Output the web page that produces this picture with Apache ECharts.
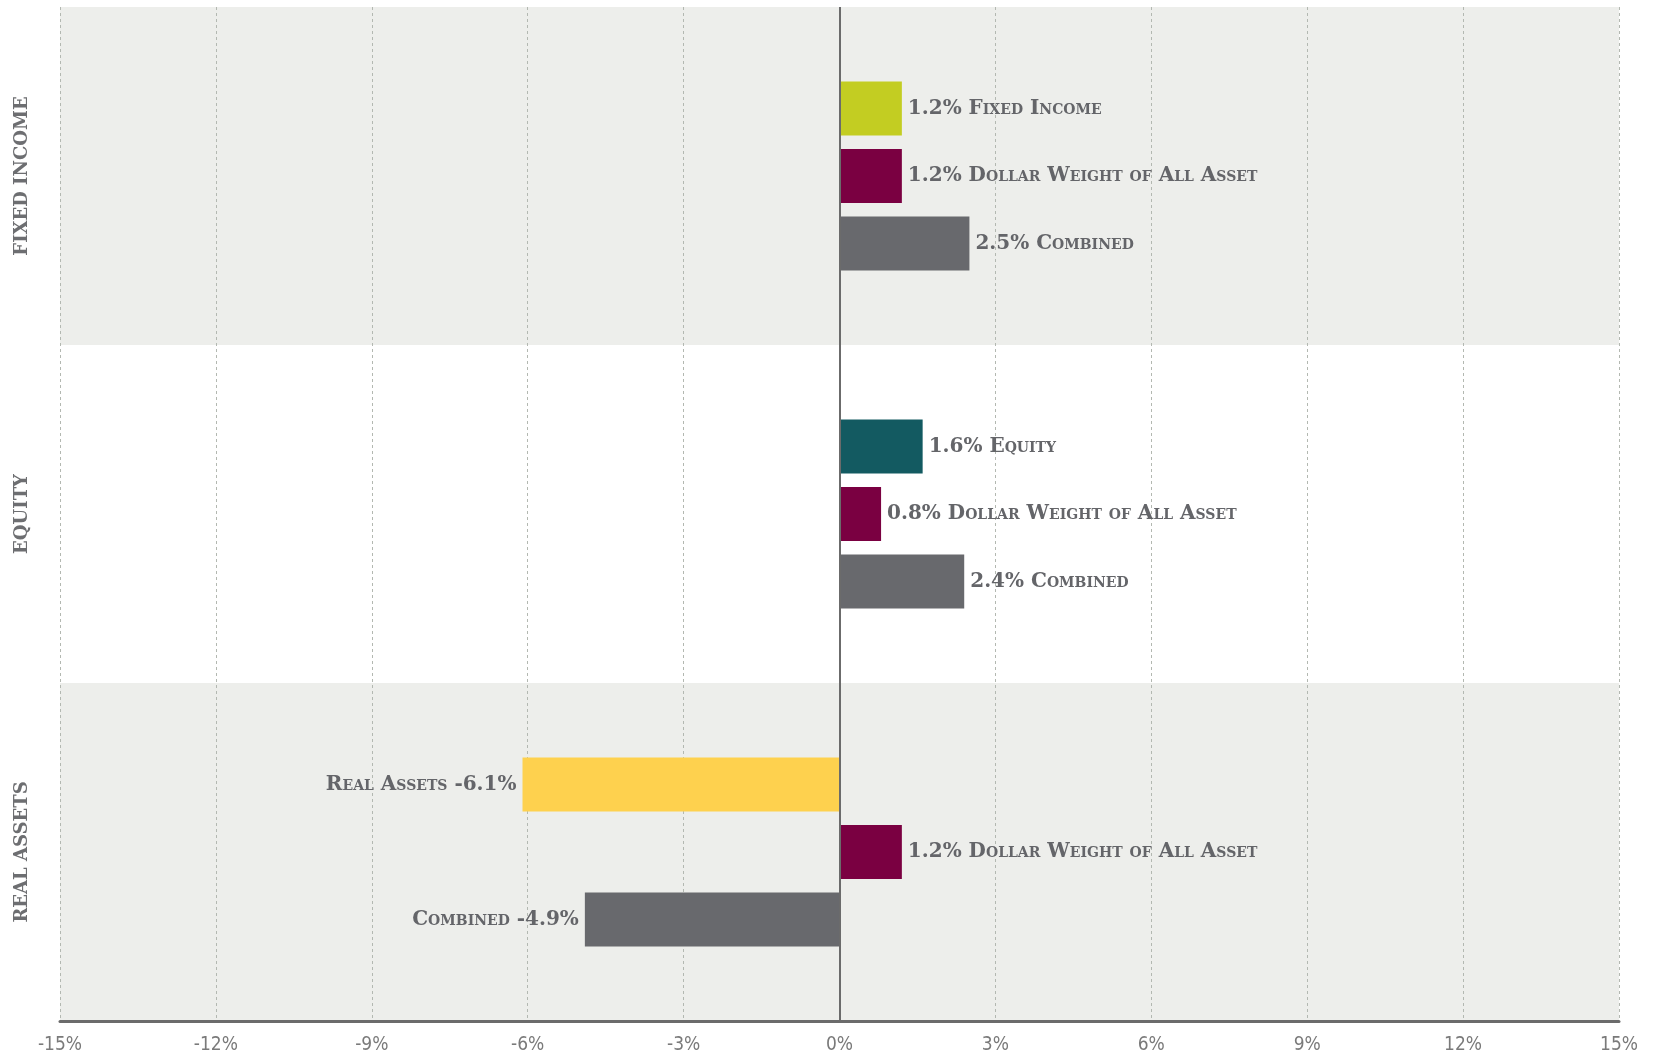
<!DOCTYPE html>
<html><head><meta charset="utf-8">
<script src="https://cdn.jsdelivr.net/npm/echarts@6/dist/echarts.min.js"></script>
<style>html,body{margin:0;padding:0;background:#fff}#c{width:1656px;height:1057px}</style>
</head><body><div id="c"></div>
<script>
// ---- data ----
const categories = ['FIXED INCOME', 'EQUITY', 'REAL ASSETS'];
const classNames = ['Fixed Income', 'Equity', 'Real Assets'];
const classValues = [1.2, 1.6, -6.1];
const dollarWeightName = 'Dollar Weight of All Asset';
const dollarWeightValues = [1.2, 0.8, 1.2];
const combinedName = 'Combined';
const combinedValues = [2.5, 2.4, -4.9];
const xMin = -15, xMax = 15, xStep = 3;

// ---- styles ----
const classColors = ['#C3CD22', '#135A61', '#FED14E'];
const dollarColor = '#7A0041';
const combinedColor = '#68696D';
const textColor = '#646569';

const labelFont = {
  color: textColor,
  fontStyle: 'small-caps',
  fontWeight: 'bold',
  fontFamily: "'DejaVu Serif', serif",
  fontSize: 20,
  distance: 6
};

function makeData(values, colors) {
  return values.map((v, i) => {
    const d = { value: v, label: { position: v < 0 ? 'left' : 'right' } };
    if (colors) d.itemStyle = { color: colors[i] };
    return d;
  });
}
function fmt(name) {
  return p => {
    const n = typeof name === 'function' ? name(p.dataIndex) : name;
    return p.value < 0 ? n + ' ' + p.value + '%' : p.value + '% ' + n;
  };
}

const chart = echarts.init(document.getElementById('c'));
chart.setOption({
  animation: false,
  backgroundColor: '#ffffff',
  grid: { left: 60, right: 37, top: 7, bottom: 36, containLabel: false },
  xAxis: {
    type: 'value', min: xMin, max: xMax, interval: xStep,
    axisLine: { show: true, lineStyle: { color: '#6b6b6b', width: 3 } },
    axisTick: { show: false },
    axisLabel: {
      formatter: v => v + '%', color: '#7a7a7a', fontSize: 19,
      fontFamily: "'Liberation Sans Narrow', 'DejaVu Sans Condensed', sans-serif",
      margin: 15
    },
    splitLine: { show: true, lineStyle: { color: '#b3b8b1', type: [3, 3], width: 1 } }
  },
  yAxis: {
    type: 'category', data: categories, inverse: true,
    axisLine: { show: false }, axisTick: { show: false },
    axisLabel: {
      rotate: 90, color: '#6d6e71', fontWeight: 'bold', fontSize: 18,
      fontFamily: "'DejaVu Serif', serif", margin: 29
    },
    splitArea: { show: true, areaStyle: { color: ['#EDEEEB', '#FFFFFF'] } }
  },
  series: [
    {
      type: 'bar', name: 'Asset Class', barWidth: 54, barGap: '25%',
      data: makeData(classValues, classColors),
      label: Object.assign({ show: true, formatter: fmt(i => classNames[i]) }, labelFont),
      markLine: {
        silent: true, symbol: 'none', label: { show: false },
        lineStyle: { color: '#6b6b6b', width: 2, type: 'solid' },
        data: [{ xAxis: 0 }]
      },
      z: 3
    },
    {
      type: 'bar', name: dollarWeightName, barWidth: 54, barGap: '25%',
      itemStyle: { color: dollarColor },
      data: makeData(dollarWeightValues),
      label: Object.assign({ show: true, formatter: fmt(dollarWeightName) }, labelFont),
      z: 3
    },
    {
      type: 'bar', name: combinedName, barWidth: 54, barGap: '25%',
      itemStyle: { color: combinedColor },
      data: makeData(combinedValues),
      label: Object.assign({ show: true, formatter: fmt(combinedName) }, labelFont),
      z: 3
    }
  ]
});
</script>
</body></html>
